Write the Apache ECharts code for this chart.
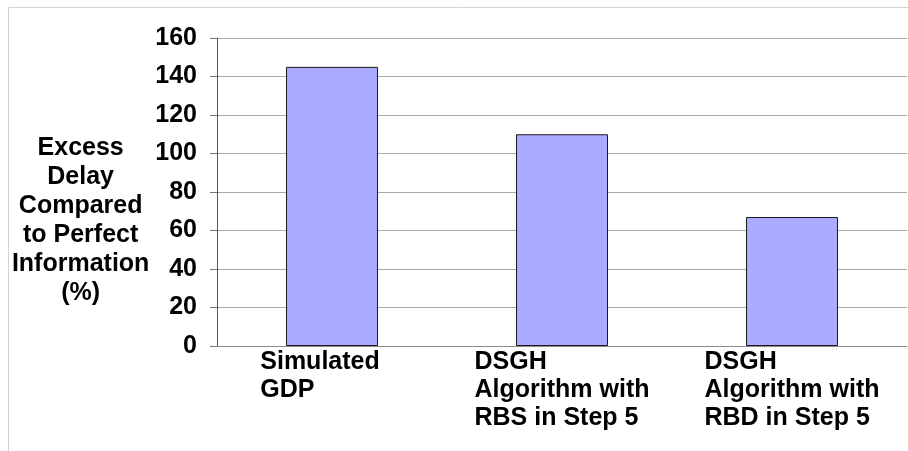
<!DOCTYPE html>
<html lang="en">
<head>
  <meta charset="UTF-8">
  <title>Excess Delay</title>
  <script src="https://cdn.jsdelivr.net/npm/echarts@6/dist/echarts.min.js"></script>
  <style>
    body { margin: 0; background: #fff; }
    #main { width: 908px; height: 451px; }
  </style>
</head>
<body>
  <div id="main"></div>
  <script>
    // data
    var categories = ['Simulated\nGDP', 'DSGH\nAlgorithm with\nRBS in Step 5', 'DSGH\nAlgorithm with\nRBD in Step 5'];
    var delays = [145, 110, 67];
    var yTicks = [0, 20, 40, 60, 80, 100, 120, 140, 160];

    var font = 'Liberation Sans, Arial, sans-serif';
    var chart = echarts.init(document.getElementById('main'));

    var option = {
      animation: false,
      grid: { left: 217, top: 38, right: 1, bottom: 105 },
      // light frame around the chart area
      graphic: [{
        type: 'rect',
        shape: { x: 8.5, y: 7.5, width: 1000, height: 1000 },
        style: { fill: 'none', stroke: '#d4d4d4', lineWidth: 1 },
        silent: true
      }],
      xAxis: {
        type: 'category',
        data: categories,
        axisTick: { show: false },
        axisLine: { lineStyle: { color: '#8c8c8c', width: 1 } },
        axisLabel: {
          interval: 0,
          margin: 2,
          align: 'center',
          formatter: function (v, i) {
            return (i === 0 ? '{b|' : '{a|') + v + '}';
          },
          rich: {
            a: { fontFamily: font, fontWeight: 'bold', fontSize: 25, lineHeight: 28, color: '#000', align: 'left' },
            b: { fontFamily: font, fontWeight: 'bold', fontSize: 25, lineHeight: 28, color: '#000', align: 'left', padding: [0, 24, 0, 0] }
          }
        }
      },
      yAxis: {
        type: 'value',
        min: yTicks[0],
        max: yTicks[yTicks.length - 1],
        interval: 20,
        // two empty lines on top push the block down below the axis middle
        name: '\n\nExcess\nDelay\nCompared\nto Perfect\nInformation\n(%)',
        nameLocation: 'middle',
        nameRotate: 0,
        nameGap: 134,
        nameTextStyle: {
          fontFamily: font, fontWeight: 'bold', fontSize: 25, lineHeight: 29,
          color: '#000', align: 'center', verticalAlign: 'middle'
        },
        axisLine: { show: true, lineStyle: { color: '#555', width: 1 } },
        axisTick: { show: true, length: 7, lineStyle: { color: '#777' } },
        axisLabel: { margin: 20, fontFamily: font, fontWeight: 'bold', fontSize: 25, color: '#000' },
        splitLine: { lineStyle: { color: '#a8a8a8', width: 1 } }
      },
      series: [{
        type: 'bar',
        data: delays,
        barWidth: '40%',
        itemStyle: { color: '#aaaaff', borderColor: '#1a1a1a', borderWidth: 1 }
      }]
    };
    chart.setOption(option);
  </script>
</body>
</html>
